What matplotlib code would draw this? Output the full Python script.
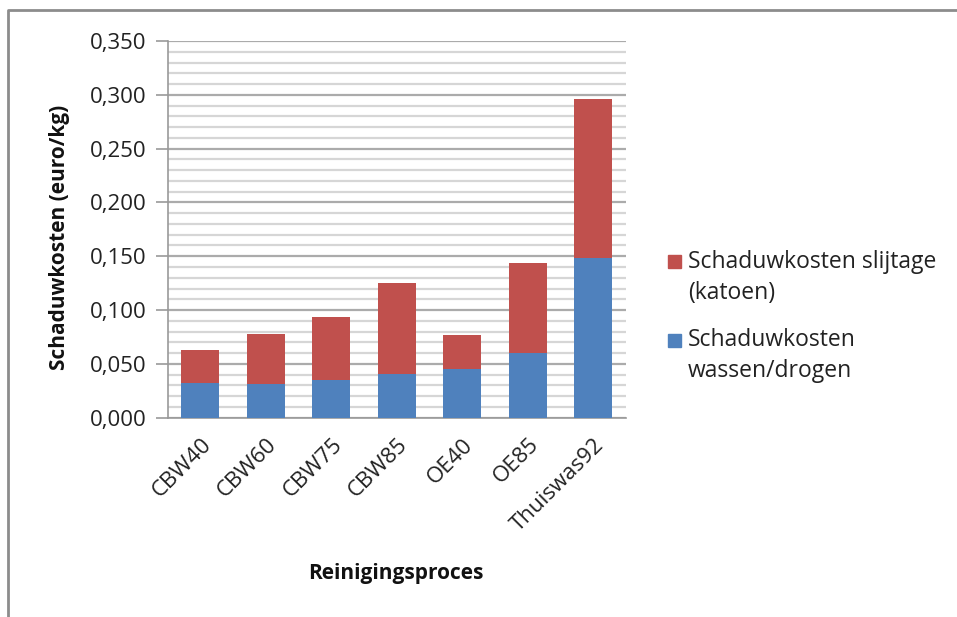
import matplotlib
matplotlib.use("Agg")
import matplotlib.pyplot as plt
from matplotlib.lines import Line2D
from matplotlib.patches import Rectangle
from matplotlib.ticker import MultipleLocator, FuncFormatter
import numpy as np

categories = ["CBW40", "CBW60", "CBW75", "CBW85", "OE40", "OE85", "Thuiswas92"]
wassen_drogen = [0.0325, 0.031, 0.035, 0.041, 0.0455, 0.060, 0.148]
slijtage = [0.030, 0.047, 0.059, 0.0845, 0.031, 0.084, 0.1485]
series_labels = ["Schaduwkosten slijtage\n(katoen)", "Schaduwkosten\nwassen/drogen"]

blue = "#4F81BD"
red = "#C0504D"
W, H = 957, 617
plt.rcParams['font.family'] = ['Open Sans', 'DejaVu Sans']

fig = plt.figure(figsize=(W / 100, H / 100), dpi=100)
ax = fig.add_axes([167.7 / W, 1 - 417.7 / H, (626 - 167.7) / W, (417.7 - 41) / H])

x = np.arange(len(categories))
ax.bar(x, wassen_drogen, width=0.58, color=blue, zorder=3)
ax.bar(x, slijtage, width=0.58, bottom=wassen_drogen, color=red, zorder=3)

ax.set_xlim(-0.5, len(categories) - 0.5)
ax.set_ylim(0, 0.350)
ax.yaxis.set_major_locator(MultipleLocator(0.05))
ax.yaxis.set_minor_locator(MultipleLocator(0.01))
ax.yaxis.set_major_formatter(FuncFormatter(lambda v, p: f"{v:.3f}".replace(".", ",")))
ax.grid(axis='y', which='major', color='#ABABAB', linewidth=1.6, zorder=0)
ax.grid(axis='y', which='minor', color='#D6D6D6', linewidth=1.6, zorder=0)
ax.tick_params(axis='y', which='major', length=9, width=1.2, color='#999999', labelsize=16,
               pad=6, labelcolor='#222222')
ax.tick_params(axis='y', which='minor', length=0)
ax.set_xticks(x)
ax.set_xticklabels(categories, rotation=45, ha='right', rotation_mode='anchor', fontsize=16,
                   color='#222222')
ax.tick_params(axis='x', length=0, pad=12)

for s in ['top', 'right']:
    ax.spines[s].set_visible(False)
ax.spines['left'].set_color('#999999')
ax.spines['bottom'].set_color('#999999')
ax.spines['left'].set_linewidth(1.2)
ax.spines['bottom'].set_linewidth(1.2)

fig.text(60 / W, 1 - 237 / H, "Schaduwkosten (euro/kg)", fontsize=15, fontweight='bold',
         rotation=90, ha='center', va='center', color='#111111')
fig.text(396 / W, 1 - 573 / H, "Reinigingsproces", fontsize=15,
         fontweight='bold', ha='center', va='center', color='#111111')

# legend (Excel style: marker aligned with first text line)
for i, (label, color) in enumerate(zip(series_labels, [red, blue])):
    y0 = 262 + i * 78
    fig.add_artist(Rectangle((668 / W, 1 - (y0 + 6.5) / H), 13 / W, 13 / H,
                             transform=fig.transFigure, color=color))
    for j, line in enumerate(label.split("\n")):
        fig.text(688 / W, 1 - (y0 + j * 31) / H, line, fontsize=16.5, ha='left',
                 va='center', color='#222222')

fig.add_artist(Line2D([8 / W, 8 / W, 1], [0, 1 - 10 / H, 1 - 10 / H], transform=fig.transFigure,
                      color='#8C8C8C', linewidth=2))

fig.savefig("out.png", dpi=100)
